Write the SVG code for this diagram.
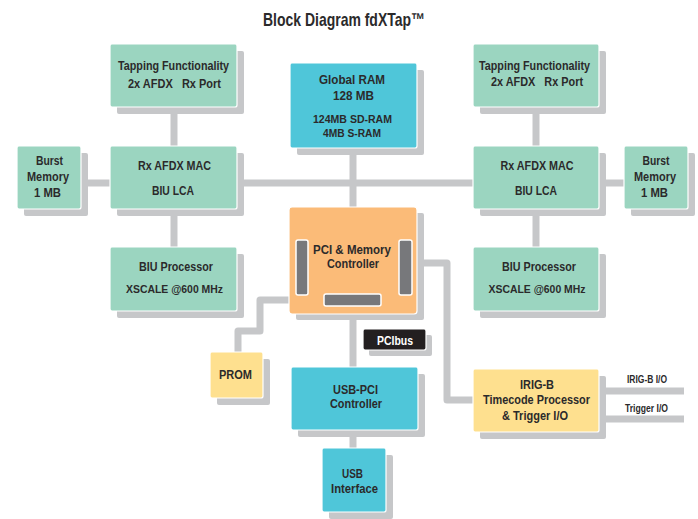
<svg xmlns="http://www.w3.org/2000/svg" width="698" height="519" viewBox="0 0 698 519">
<defs>
<style>
.t{font-family:"Liberation Sans",Arial,sans-serif;font-weight:bold;fill:#2b2a2b;text-anchor:middle;white-space:pre;}
.f12{font-size:12.5px;}
.f11{font-size:11.5px;}
.f10{font-size:10px;}
.sh{fill:#c6c7c9;}
.g{fill:#9bd5c0;stroke:#fff;stroke-width:1.2;}
.c{fill:#4fc6d9;stroke:#fff;stroke-width:1.2;}
.o{fill:#fbbb78;stroke:#fff;stroke-width:1.2;}
.y{fill:#fee08f;stroke:#fff;stroke-width:1.2;}
.k{fill:#231f20;stroke:#fff;stroke-width:1.2;}
.bar{fill:#77787b;stroke:#fff;stroke-width:1.5;}
.ln{fill:none;stroke:#c6c7c9;stroke-width:7;stroke-linejoin:round;}
</style>
</defs>
<rect width="698" height="519" fill="#fff"/>
<text x="344" y="26" class="t" style="font-size:18.5px" textLength="162" lengthAdjust="spacingAndGlyphs">Block Diagram fdXTap™</text>

<g id="connectors">
<line class="ln" x1="174" y1="107" x2="174" y2="146"/>
<line class="ln" x1="174" y1="209" x2="174" y2="247"/>
<line class="ln" x1="81" y1="183" x2="110" y2="183"/>
<line class="ln" x1="536" y1="107" x2="536" y2="146"/>
<line class="ln" x1="536" y1="209" x2="536" y2="247"/>
<line class="ln" x1="599" y1="183" x2="624" y2="183"/>
<line class="ln" x1="237" y1="183" x2="473" y2="183"/>
<line class="ln" x1="353" y1="148" x2="353" y2="207"/>
<line class="ln" x1="353" y1="314" x2="353" y2="367"/>
<line class="ln" x1="353" y1="430" x2="353" y2="448"/>
<polyline class="ln" points="289,300 260,300 260,331 238,331 238,352"/>
<polyline class="ln" points="417,263 447,263 447,400 473,400"/>
<line class="ln" x1="599" y1="391" x2="684" y2="391"/>
<line class="ln" x1="599" y1="419" x2="684" y2="419"/>
</g>

<g id="tap-left">
<rect class="sh" x="117" y="51" width="127" height="63" rx="2"/>
<rect class="g" x="110" y="44" width="127" height="63" rx="2"/>
<text class="t f12" x="173.5" y="70" textLength="111" lengthAdjust="spacingAndGlyphs">Tapping Functionality</text>
<text class="t f12" x="174.5" y="88" textLength="93" lengthAdjust="spacingAndGlyphs">2x AFDX   Rx Port</text>
</g>
<g id="mac-left">
<rect class="sh" x="117" y="153" width="127" height="63" rx="2"/>
<rect class="g" x="110" y="146" width="127" height="63" rx="2"/>
<text class="t f12" x="174.5" y="170" textLength="73" lengthAdjust="spacingAndGlyphs">Rx AFDX MAC</text>
<text class="t f12" x="173" y="195" textLength="42" lengthAdjust="spacingAndGlyphs">BIU LCA</text>
</g>
<g id="burst-left">
<rect class="sh" x="24" y="153" width="64" height="63" rx="2"/>
<rect class="g" x="17" y="146" width="64" height="63" rx="2"/>
<text class="t f12" x="49.5" y="165" textLength="27" lengthAdjust="spacingAndGlyphs">Burst</text>
<text class="t f12" x="48" y="181" textLength="42" lengthAdjust="spacingAndGlyphs">Memory</text>
<text class="t f12" x="47.5" y="197" textLength="27" lengthAdjust="spacingAndGlyphs">1 MB</text>
</g>
<g id="biu-left">
<rect class="sh" x="117" y="254" width="127" height="64" rx="2"/>
<rect class="g" x="110" y="247" width="127" height="64" rx="2"/>
<text class="t f12" x="176" y="271" textLength="74" lengthAdjust="spacingAndGlyphs">BIU Processor</text>
<text class="t f11" x="174.5" y="293" textLength="97" lengthAdjust="spacingAndGlyphs">XSCALE @600 MHz</text>
</g>

<g id="tap-right">
<rect class="sh" x="480" y="51" width="126" height="63" rx="2"/>
<rect class="g" x="473" y="44" width="126" height="63" rx="2"/>
<text class="t f12" x="534.5" y="70" textLength="111" lengthAdjust="spacingAndGlyphs">Tapping Functionality</text>
<text class="t f12" x="537" y="86" textLength="92" lengthAdjust="spacingAndGlyphs">2x AFDX   Rx Port</text>
</g>
<g id="mac-right">
<rect class="sh" x="480" y="153" width="126" height="63" rx="2"/>
<rect class="g" x="473" y="146" width="126" height="63" rx="2"/>
<text class="t f12" x="537" y="170" textLength="73" lengthAdjust="spacingAndGlyphs">Rx AFDX MAC</text>
<text class="t f12" x="536" y="195" textLength="42" lengthAdjust="spacingAndGlyphs">BIU LCA</text>
</g>
<g id="burst-right">
<rect class="sh" x="631" y="153" width="64" height="63" rx="2"/>
<rect class="g" x="624" y="146" width="64" height="63" rx="2"/>
<text class="t f12" x="656" y="165" textLength="27" lengthAdjust="spacingAndGlyphs">Burst</text>
<text class="t f12" x="655" y="181" textLength="42" lengthAdjust="spacingAndGlyphs">Memory</text>
<text class="t f12" x="654.5" y="197" textLength="27" lengthAdjust="spacingAndGlyphs">1 MB</text>
</g>
<g id="biu-right">
<rect class="sh" x="480" y="254" width="126" height="64" rx="2"/>
<rect class="g" x="473" y="247" width="126" height="64" rx="2"/>
<text class="t f12" x="539" y="271" textLength="74" lengthAdjust="spacingAndGlyphs">BIU Processor</text>
<text class="t f11" x="537" y="293" textLength="97" lengthAdjust="spacingAndGlyphs">XSCALE @600 MHz</text>
</g>

<g id="global-ram">
<rect class="sh" x="297" y="70" width="127" height="85" rx="2"/>
<rect class="c" x="290" y="63" width="127" height="85" rx="2"/>
<text class="t f12" x="352" y="84" textLength="66" lengthAdjust="spacingAndGlyphs">Global RAM</text>
<text class="t f12" x="353.5" y="100" textLength="41" lengthAdjust="spacingAndGlyphs">128 MB</text>
<text class="t f11" x="352.5" y="123" textLength="79" lengthAdjust="spacingAndGlyphs">124MB SD-RAM</text>
<text class="t f11" x="352" y="137" textLength="58" lengthAdjust="spacingAndGlyphs">4MB S-RAM</text>
</g>

<g id="pci-mem">
<rect class="sh" x="296" y="213" width="128" height="107" rx="2"/>
<rect class="o" x="289" y="207" width="128" height="107" rx="3"/>
<rect class="bar" x="296" y="240" width="12" height="55" rx="2"/>
<rect class="bar" x="399" y="240" width="13" height="55" rx="2"/>
<rect class="bar" x="324" y="294" width="57" height="12" rx="2"/>
<text class="t f12" x="352" y="254" textLength="78" lengthAdjust="spacingAndGlyphs">PCI &amp; Memory</text>
<text class="t f12" x="353" y="268" textLength="52" lengthAdjust="spacingAndGlyphs">Controller</text>
</g>

<g id="pcibus">
<rect class="sh" x="369" y="335" width="63" height="21" rx="2"/>
<rect class="k" x="363" y="329" width="63" height="21" rx="2"/>
<text class="t f12" x="395" y="345" style="fill:#fff" textLength="36" lengthAdjust="spacingAndGlyphs">PCIbus</text>
</g>

<g id="prom">
<rect class="sh" x="217" y="359" width="53" height="46" rx="2"/>
<rect class="y" x="210" y="352" width="53" height="46" rx="2"/>
<text class="t f12" x="235.5" y="379" textLength="33" lengthAdjust="spacingAndGlyphs">PROM</text>
</g>

<g id="usb-pci">
<rect class="sh" x="298" y="374" width="127" height="63" rx="2"/>
<rect class="c" x="291" y="367" width="127" height="63" rx="2"/>
<text class="t f12" x="355.5" y="394" textLength="45" lengthAdjust="spacingAndGlyphs">USB-PCI</text>
<text class="t f12" x="356" y="408" textLength="52" lengthAdjust="spacingAndGlyphs">Controller</text>
</g>

<g id="usb-if">
<rect class="sh" x="329" y="455" width="64" height="64" rx="2"/>
<rect class="c" x="322" y="448" width="64" height="64" rx="2"/>
<text class="t f12" x="352.5" y="478" textLength="21" lengthAdjust="spacingAndGlyphs">USB</text>
<text class="t f12" x="354.5" y="493" textLength="47" lengthAdjust="spacingAndGlyphs">Interface</text>
</g>

<g id="irig">
<rect class="sh" x="480" y="376" width="126" height="63" rx="2"/>
<rect class="y" x="473" y="369" width="126" height="63" rx="2"/>
<text class="t f12" x="537" y="389" textLength="34" lengthAdjust="spacingAndGlyphs">IRIG-B</text>
<text class="t f12" x="536.5" y="404" textLength="107" lengthAdjust="spacingAndGlyphs">Timecode Processor</text>
<text class="t f12" x="535" y="420" textLength="66" lengthAdjust="spacingAndGlyphs">&amp; Trigger I/O</text>
</g>
<text class="t f10" x="647" y="383" textLength="40" lengthAdjust="spacingAndGlyphs">IRIG-B I/O</text>
<text class="t f10" x="646.5" y="412" textLength="43" lengthAdjust="spacingAndGlyphs">Trigger I/O</text>
</svg>
